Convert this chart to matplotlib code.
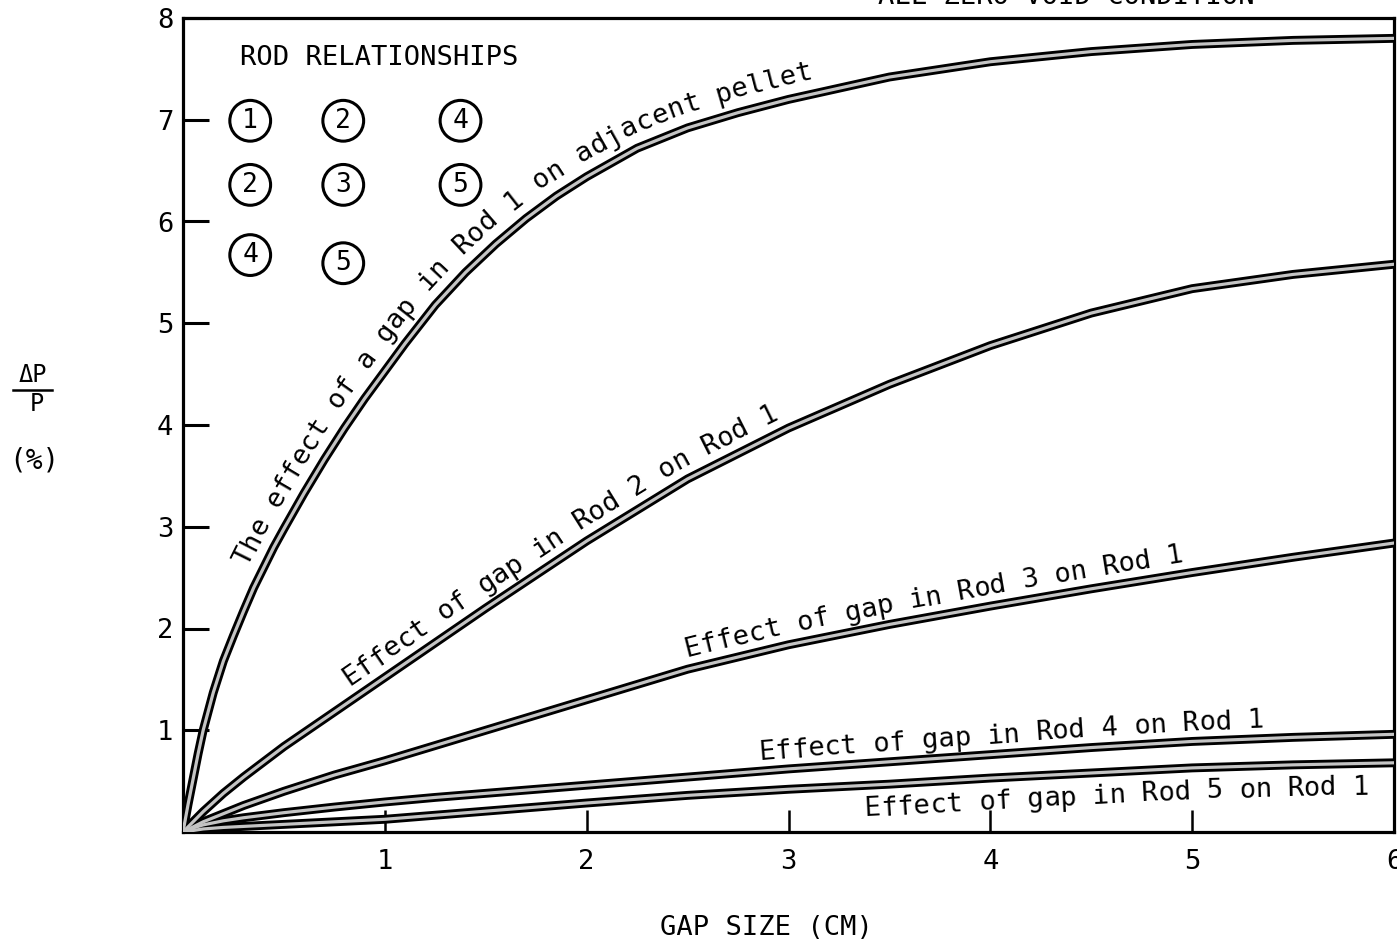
import numpy as np
import matplotlib
matplotlib.use("Agg")
import matplotlib.pyplot as plt
from matplotlib.transforms import IdentityTransform

# ---------------- data ----------------
gap_cm_rod1 = [0, 0.025, 0.05, 0.075, 0.1, 0.15, 0.2, 0.25, 0.3, 0.35, 0.4, 0.45, 0.5,
               0.6, 0.7, 0.8, 0.9, 1.0, 1.1, 1.25, 1.4, 1.55, 1.7, 1.85, 2.0, 2.25,
               2.5, 2.75, 3.0, 3.5, 4.0, 4.5, 5.0, 5.5, 6.0]
rod1_adjacent = [0, 0.27, 0.52, 0.77, 1.00, 1.37, 1.68, 1.93, 2.17, 2.40, 2.60, 2.80, 2.98,
                 3.33, 3.66, 3.97, 4.26, 4.53, 4.80, 5.18, 5.50, 5.78, 6.03, 6.25, 6.44, 6.72,
                 6.92, 7.07, 7.20, 7.42, 7.57, 7.67, 7.74, 7.78, 7.80]

gap_cm = [0, 0.05, 0.1, 0.2, 0.3, 0.4, 0.5, 0.75, 1.0, 1.25, 1.5, 1.75,
          2.0, 2.5, 3.0, 3.5, 4.0, 4.5, 5.0, 5.5, 6.0]
rod2_on_rod1 = [0, 0.10, 0.20, 0.38, 0.54, 0.69, 0.84, 1.18, 1.52, 1.86, 2.20, 2.53,
                2.86, 3.47, 3.97, 4.40, 4.78, 5.10, 5.34, 5.48, 5.58]
rod3_on_rod1 = [0, 0.05, 0.10, 0.18, 0.26, 0.33, 0.40, 0.56, 0.70, 0.85, 1.00, 1.15,
                1.30, 1.60, 1.84, 2.04, 2.22, 2.39, 2.55, 2.70, 2.84]
rod4_on_rod1 = [0, 0.04, 0.07, 0.11, 0.14, 0.165, 0.19, 0.245, 0.295, 0.34, 0.38, 0.42,
                0.46, 0.54, 0.62, 0.69, 0.76, 0.83, 0.89, 0.93, 0.96]
rod5_on_rod1 = [0, 0.015, 0.03, 0.045, 0.055, 0.065, 0.075, 0.10, 0.125, 0.165, 0.205, 0.245,
                0.285, 0.36, 0.42, 0.47, 0.53, 0.58, 0.63, 0.66, 0.68]

curve_labels = [
    "The effect of a gap in Rod 1 on adjacent pellet",
    "Effect of gap in Rod 2 on Rod 1",
    "Effect of gap in Rod 3 on Rod 1",
    "Effect of gap in Rod 4 on Rod 1",
    "Effect of gap in Rod 5 on Rod 1",
]
x_ticks = [1, 2, 3, 4, 5, 6]
y_ticks = [1, 2, 3, 4, 5, 6, 7, 8]
relationship_rows = [["1", "2", "4"], ["2", "3", "5"], ["4", "5"]]

MONO = "DejaVu Sans Mono"
FS = 19.5

fig = plt.figure(figsize=(13.97, 9.46), dpi=100)
ax = fig.add_axes([183 / 1397, 1 - 832 / 946, (1394 - 183) / 1397, (832 - 18) / 946])
ax.set_xlim(0, 6)
ax.set_ylim(0, 8)

for sp in ax.spines.values():
    sp.set_linewidth(2.3)

ax.set_xticks(x_ticks)
ax.set_xticklabels([str(t) for t in x_ticks])
ax.set_yticks(y_ticks)
ax.set_yticklabels([str(t) for t in y_ticks])
ax.tick_params(axis="y", direction="in", length=19, width=2.2, pad=7, labelsize=19.5)
ax.tick_params(axis="x", direction="in", length=16, width=1.8, pad=12, labelsize=19.5)
for lab in ax.get_xticklabels() + ax.get_yticklabels():
    lab.set_family(MONO)

series = [(gap_cm_rod1, rod1_adjacent), (gap_cm, rod2_on_rod1), (gap_cm, rod3_on_rod1),
          (gap_cm, rod4_on_rod1), (gap_cm, rod5_on_rod1)]
for xs, ys in series:
    ax.plot(xs, ys, color="black", lw=6.4, solid_joinstyle="round", zorder=3)
    ax.plot(xs, ys, color="#c4c4c4", lw=2.3, solid_joinstyle="round", zorder=4)


def curve_text(ax, xd, yd, text, x0, off, fs):
    T = ax.transData
    xx = np.linspace(xd[0], xd[-1], 3000)
    yy = np.interp(xx, xd, yd)
    P = T.transform(np.column_stack([xx, yy]))
    seg = np.hypot(np.diff(P[:, 0]), np.diff(P[:, 1]))
    s = np.concatenate([[0], np.cumsum(seg)])
    s0 = np.interp(x0, xx, s)
    adv = 0.6021 * fs * ax.figure.dpi / 72

    def pt(v):
        return np.array([np.interp(v, s, P[:, 0]), np.interp(v, s, P[:, 1])])

    for i, ch in enumerate(text):
        si = s0 + (i + 0.5) * adv
        pa, pb, pc = pt(si - adv), pt(si + adv), pt(si)
        ang = np.arctan2(pb[1] - pa[1], pb[0] - pa[0])
        n = np.array([-np.sin(ang), np.cos(ang)])
        q = pc + off * n
        ax.text(q[0], q[1], ch, transform=IdentityTransform(), rotation=np.degrees(ang),
                rotation_mode="anchor", ha="center", va="baseline", fontsize=fs,
                family=MONO, zorder=5)


label_pos = [(0.385, 15), (0.86, 13), (2.51, 12), (2.86, 11), (3.37, -31)]
for (xs, ys), lab, (x0, off) in zip(series, curve_labels, label_pos):
    curve_text(ax, xs, ys, lab, x0, off, FS)

# rod relationships legend
ax.text(0.283, 7.61, "ROD RELATIONSHIPS", family=MONO, fontsize=FS, ha="left", va="center")
col_x = [0.333, 0.794, 1.375]
row_y = [6.99, 6.36, 5.67]
for r, row in enumerate(relationship_rows):
    for c, num in enumerate(row):
        yy = row_y[r] - (0.08 if (r == 2 and c == 1) else 0)
        ax.text(col_x[c], yy, num, family=MONO, fontsize=19, ha="center", va="center",
                bbox=dict(boxstyle="circle,pad=0.28", fc="white", ec="black", lw=2.2))

# axis labels
fig.text(766 / 1397, 1 - 928 / 946, "GAP SIZE (CM)", family=MONO, fontsize=FS,
         ha="center", va="center")
fig.text(33 / 1397, 1 - 375 / 946, "ΔP", family=MONO, fontsize=17, ha="center", va="center")
fig.add_artist(plt.Line2D([13 / 1397, 52 / 1397], [1 - 390 / 946, 1 - 390 / 946],
                          color="black", lw=1.8))
fig.text(37 / 1397, 1 - 404 / 946, "P", family=MONO, fontsize=17, ha="center", va="center")
fig.text(34 / 1397, 1 - 460 / 946, "(%)", family=MONO, fontsize=20, ha="center", va="center")

# cut-off heading at the very top
fig.text(878 / 1397, 1 - 4 / 946, "ALL ZERO VOID CONDITION", family=MONO, fontsize=FS,
         ha="left", va="baseline")

fig.savefig("out.png", dpi=100)
